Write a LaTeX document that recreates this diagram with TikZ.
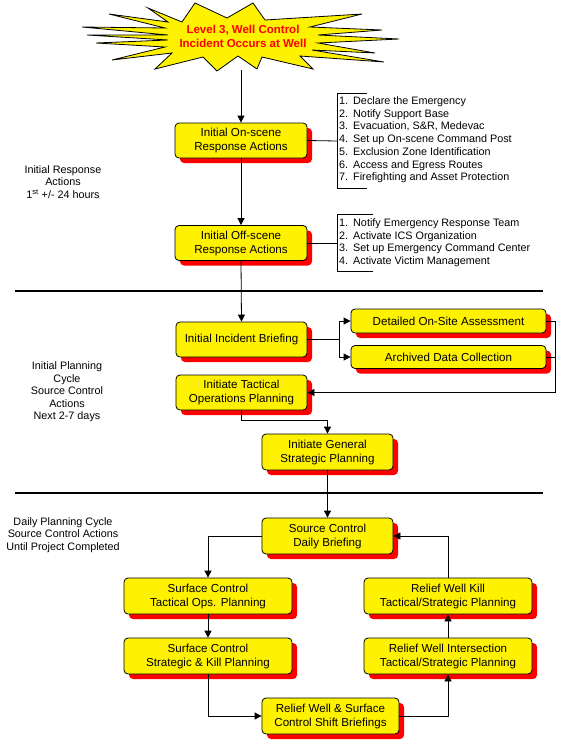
\documentclass[tikz,border=0pt]{standalone}
\usepackage{fontspec}
\setmainfont{Liberation Sans}
\usetikzlibrary{arrows.meta,shadows}
\tikzset{
  box/.style={draw=black, line width=0.8pt, fill=yellow, rounded corners=4pt,
    align=center, inner sep=0pt, font=\fontsize{11.6}{14}\selectfont,
    drop shadow={shadow xshift=5pt, shadow yshift=-5pt, fill=red, opacity=1}},
  conn/.style={line width=0.8pt},
  arr/.style={conn, -{Triangle[length=7pt,width=7pt]}},
  lbl/.style={align=center, font=\fontsize{10.8}{12.5}\selectfont, inner sep=0pt},
  lst/.style={align=left, font=\fontsize{10.8}{12.7}\selectfont, inner sep=0pt, anchor=north west},
  divider/.style={line width=2pt},
  burst/.style={draw=black, line width=0.8pt, fill=yellow, line join=miter},
  bursttext/.style={align=center, text=red, font=\bfseries\fontsize{11.5}{14}\selectfont, inner sep=0pt},
}
\newcommand{\itm}[1]{\makebox[14pt][l]{#1}}
\begin{document}
\begin{tikzpicture}[x=1pt,y=-1pt]
\useasboundingbox (0,0) rectangle (581,742);

% starburst
\draw[burst] (195,3) -- (227,18) -- (253,3) -- (265,20) -- (362,14) -- (310,27) -- (382,30) -- (318,35)
  -- (399,39) -- (318,43) -- (375,53) -- (312,50) -- (384,62) -- (300,56) -- (313,69) -- (262,57)
  -- (257,69) -- (238,56) -- (217,71) -- (203,57) -- (155,69) -- (172,53) -- (112,60) -- (165,47)
  -- (96,43) -- (168,40) -- (87,35) -- (168,35) -- (82,27) -- (165,28) -- (109,14) -- (168,22)
  -- (148,8) -- (182,22) -- cycle;
\node[bursttext] (burst) at (243,36) {Level 3, Well Control\\Incident Occurs at Well};
\coordinate (burstbot) at (241,70);

% boxes
\node[box, minimum width=132pt, minimum height=35pt] (onscene) at (241,140.5) {Initial On-scene\\Response Actions};
\node[box, minimum width=132pt, minimum height=35pt] (offscene) at (241,243) {Initial Off-scene\\Response Actions};
\node[box, minimum width=131pt, minimum height=35pt] (iib) at (241.5,339.5) {Initial Incident Briefing};
\node[box, minimum width=195pt, minimum height=24pt] (dosa) at (448.5,321) {Detailed On-Site Assessment};
\node[box, minimum width=195pt, minimum height=23pt] (adc) at (448.5,357) {Archived Data Collection};
\node[box, minimum width=131pt, minimum height=35pt] (itop) at (241.5,392.5) {Initiate Tactical\\Operations Planning};
\node[box, minimum width=131pt, minimum height=36pt] (igsp) at (327.5,452) {Initiate General\\Strategic Planning};
\node[box, minimum width=131pt, minimum height=36pt] (scdb) at (327.5,536) {Source Control\\Daily Briefing};
\node[box, minimum width=168pt, minimum height=36pt] (sctop) at (208,596) {Surface Control\\Tactical Ops. Planning};
\node[box, minimum width=168pt, minimum height=36pt] (rwk) at (448,596) {Relief Well Kill\\Tactical/Strategic Planning};
\node[box, minimum width=168pt, minimum height=36pt] (scskp) at (208,656) {Surface Control\\Strategic \& Kill Planning};
\node[box, minimum width=168pt, minimum height=36pt] (rwi) at (448,656) {Relief Well Intersection\\Tactical/Strategic Planning};
\node[box, minimum width=137pt, minimum height=36pt] (rwsc) at (330.5,716) {Relief Well \& Surface\\Control Shift Briefings};

% lists
\node[lst] (list1) at (339,96.5) {\itm{1.}Declare the Emergency\\\itm{2.}Notify Support Base\\\itm{3.}Evacuation, S\&R, Medevac\\\itm{4.}Set up On-scene Command Post\\\itm{5.}Exclusion Zone Identification\\\itm{6.}Access and Egress Routes\\\itm{7.}Firefighting and Asset Protection};
\draw[conn] (367,93) -- (337,93) -- (337,188) -- (367,188);
\coordinate (b1) at (337,141);
\node[lst] (list2) at (339,218.5) {\itm{1.}Notify Emergency Response Team\\\itm{2.}Activate ICS Organization\\\itm{3.}Set up Emergency Command Center\\\itm{4.}Activate Victim Management};
\draw[conn] (373,214) -- (337,214) -- (337,271) -- (373,271);
\coordinate (b2) at (337,243);

% side labels
\node[lbl] (lab1) at (63,182) {Initial Response\\Actions\\1\textsuperscript{st} +/- 24 hours};
\node[lbl] (lab2) at (67,392) {Initial Planning\\Cycle\\Source Control\\Actions\\Next 2-7 days};
\node[lbl] (lab3) at (63,535) {Daily Planning Cycle\\Source Control Actions\\Until Project Completed};

% dividers
\coordinate (d1l) at (15,291); \coordinate (d1r) at (543,291);
\coordinate (d2l) at (15,493); \coordinate (d2r) at (543,493);
\draw[divider] (d1l) -- (d1r);
\draw[divider] (d2l) -- (d2r);

% connectors
\draw[arr] (burstbot) -- (onscene.north);
\draw[conn] (onscene.east) -- (b1);
\draw[arr] (onscene.south) -- (offscene.north);
\draw[conn] (offscene.east) -- (b2);
\draw[arr] (offscene.south) -- (iib.north);
\coordinate (split) at (339,339.5);
\draw[conn] (iib.east) -- (split);
\draw[arr] (split) |- (dosa.west);
\draw[arr] (split) |- (adc.west);
\coordinate (ret) at (555,392.5);
\draw[conn] (dosa.east) -| (ret);
\draw[conn] (adc.east) -- (adc.east -| ret);
\draw[arr] (ret) -- (itop.east);
\coordinate (j1) at (241.5,420);
\draw[arr] (itop.south) -- (j1) -| (igsp.north);
\draw[arr] (igsp.south) -- (scdb.north);
\draw[arr] (scdb.west) -| (sctop.north);
\draw[arr] (sctop.south) -- (scskp.north);
\draw[arr] (scskp.south) |- (rwsc.west);
\draw[arr] (rwsc.east) -| (rwi.south);
\draw[arr] (rwi.north) -- (rwk.south);
\draw[arr] (rwk.north) |- (scdb.east);
\end{tikzpicture}
\end{document}
